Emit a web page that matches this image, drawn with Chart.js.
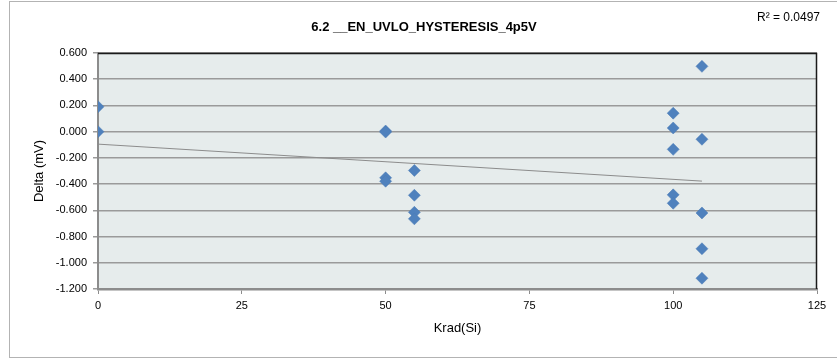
<!DOCTYPE html>
<html>
<head>
<meta charset="utf-8">
<script src="https://cdn.jsdelivr.net/npm/chart.js@4/dist/chart.umd.min.js"></script>
<style>
  html, body { margin: 0; padding: 0; background: #ffffff; }
  #wrap { width: 837px; height: 359px; position: relative; }
</style>
</head>
<body>
<div id="wrap"><canvas id="c" width="837" height="359"></canvas></div>
<script>
// ---- data ----
const chartTitle = "6.2 __EN_UVLO_HYSTERESIS_4p5V";
const rSquaredLabel = "R\u00B2 = 0.0497";
const xAxisTitle = "Krad(Si)";
const yAxisTitle = "Delta (mV)";
const doseKrad = [0, 0, 50, 50, 50, 50, 55, 55, 55, 55, 100, 100, 100, 100, 100, 105, 105, 105, 105, 105];
const deltaMv  = [0.190, 0.000, 0.005, -0.003, -0.352, -0.378, -0.296, -0.485, -0.615, -0.665,
                  0.141, 0.028, -0.135, -0.482, -0.546, 0.498, -0.058, -0.620, -0.893, -1.118];
const xTicks = [0, 25, 50, 75, 100, 125];
const yTicks = [0.6, 0.4, 0.2, 0.0, -0.2, -0.4, -0.6, -0.8, -1.0, -1.2];

// linear trendline (least squares) from the data
function linearFit(xs, ys) {
  const n = xs.length;
  let sx = 0, sy = 0, sxx = 0, sxy = 0;
  for (let i = 0; i < n; i++) { sx += xs[i]; sy += ys[i]; sxx += xs[i] * xs[i]; sxy += xs[i] * ys[i]; }
  const m = (n * sxy - sx * sy) / (n * sxx - sx * sx);
  const b = (sy - m * sx) / n;
  return { m, b };
}
const fit = linearFit(doseKrad, deltaMv);
const xMin = Math.min(...doseKrad), xMax = Math.max(...doseKrad);
const trendPoints = [
  { x: xMin, y: fit.m * xMin + fit.b },
  { x: xMax, y: fit.m * xMax + fit.b }
];

const points = doseKrad.map((x, i) => ({ x, y: deltaMv[i] }));

const FONT = "'Liberation Sans Narrow', 'Liberation Sans', Arial, sans-serif";

const decorPlugin = {
  id: 'decor',
  beforeDraw(chart) {
    const ctx = chart.ctx;
    const a = chart.chartArea;
    ctx.save();
    ctx.strokeStyle = '#b3b3b3';
    ctx.lineWidth = 1;
    ctx.strokeRect(9.5, 1.5, 840, 356);
    ctx.fillStyle = '#e6ecec';
    ctx.fillRect(a.left, a.top, a.right - a.left, a.bottom - a.top);
    ctx.restore();
  },
  afterDraw(chart) {
    const ctx = chart.ctx;
    const a = chart.chartArea;
    ctx.save();
    ctx.strokeStyle = '#1a1a1a';
    ctx.lineWidth = 1.5;
    ctx.beginPath();
    ctx.moveTo(a.left, a.top + 0.5);
    ctx.lineTo(a.right - 0.5, a.top + 0.5);
    ctx.lineTo(a.right - 0.5, a.bottom);
    ctx.stroke();
    ctx.fillStyle = '#000000';
    ctx.font = "bold 13px " + FONT;
    ctx.textAlign = 'center';
    ctx.textBaseline = 'middle';
    ctx.fillText(chartTitle, 424, 27);
    ctx.font = "12px " + FONT;
    ctx.textAlign = 'left';
    ctx.fillText(rSquaredLabel, 757, 18);
    ctx.restore();
  }
};

new Chart(document.getElementById('c'), {
  type: 'scatter',
  data: {
    datasets: [
      {
        label: 'Delta',
        data: points,
        pointStyle: 'rectRot',
        pointRadius: 6,
        pointHoverRadius: 6,
        backgroundColor: '#4f81bd',
        borderColor: '#4a7ab5',
        borderWidth: 0.5,
        showLine: false,
        order: 1
      },
      {
        label: 'Trend',
        data: trendPoints,
        showLine: true,
        pointRadius: 0,
        borderColor: '#8c8c8c',
        borderWidth: 1,
        fill: false,
        order: 2
      }
    ]
  },
  options: {
    responsive: false,
    animation: false,
    events: [],
    layout: { padding: { left: 32, right: 20, top: 53, bottom: 23 } },
    plugins: {
      legend: { display: false },
      tooltip: { enabled: false },
      title: { display: false }
    },
    scales: {
      x: {
        type: 'linear',
        min: 0, max: 125,
        afterBuildTicks(scale) { scale.ticks = xTicks.map(v => ({ value: v })); },
        afterFit(scale) { scale.height = 47; },
        grid: {
          display: true,
          drawOnChartArea: false,
          drawTicks: true,
          tickLength: 5,
          color: '#8c8c8c'
        },
        border: { display: true, color: '#8c8c8c', width: 2.5 },
        ticks: {
          color: '#000000',
          font: { family: FONT, size: 11 },
          padding: 5,
          maxRotation: 0,
          callback: (v) => String(v)
        },
        title: {
          display: true,
          text: xAxisTitle,
          color: '#000000',
          font: { family: FONT, size: 13 },
          padding: { top: 4, bottom: 0 }
        }
      },
      y: {
        type: 'linear',
        min: -1.2, max: 0.6,
        afterBuildTicks(scale) { scale.ticks = yTicks.map(v => ({ value: v })); },
        afterFit(scale) { scale.width = 66; },
        grid: {
          display: true,
          drawOnChartArea: true,
          drawTicks: true,
          tickLength: 5,
          color: '#9a9a9a',
          lineWidth: 1.5
        },
        border: { display: true, color: '#8c8c8c', width: 2 },
        ticks: {
          color: '#000000',
          font: { family: FONT, size: 11 },
          padding: 6,
          callback: (v) => Number(v).toFixed(3)
        },
        title: {
          display: true,
          text: yAxisTitle,
          color: '#000000',
          font: { family: FONT, size: 13 },
          padding: { top: 0, bottom: 0 }
        }
      }
    }
  },
  plugins: [decorPlugin]
});
</script>
</body>
</html>
